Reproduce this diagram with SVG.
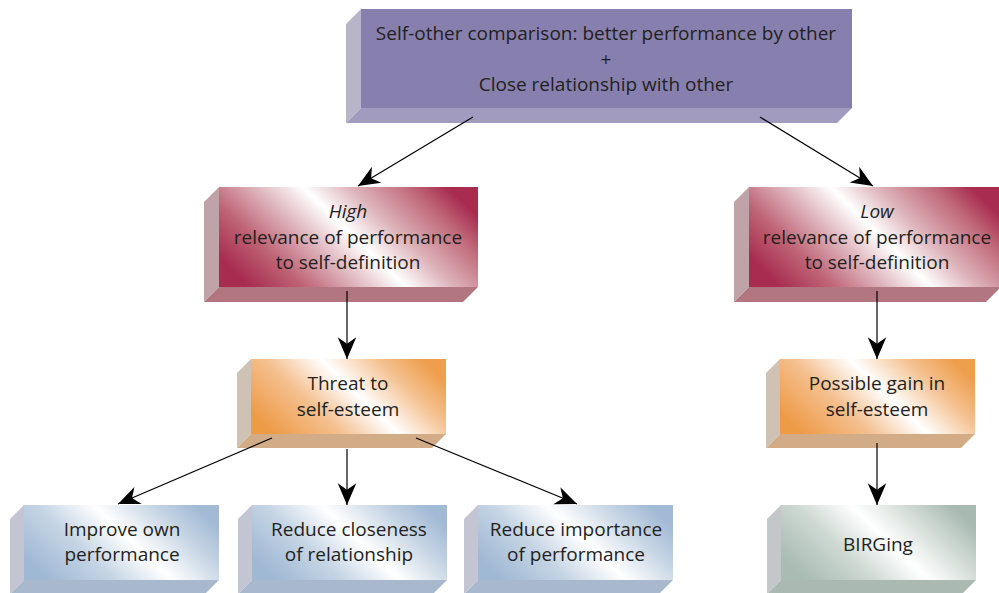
<svg xmlns="http://www.w3.org/2000/svg" width="999" height="593" viewBox="0 0 999 593">
<style>
text{font-family:"Open Sans","Liberation Sans",sans-serif;font-size:19px;fill:#231F20;text-anchor:middle}
.it{font-style:italic}
.ln{stroke:#000;stroke-width:1.2;fill:none;marker-end:url(#ah)}
</style>
<defs>
<marker id="ah" markerUnits="userSpaceOnUse" markerWidth="24" markerHeight="22" viewBox="-21 -10 22 20" refX="0" refY="0" orient="auto">
<path d="M0,0 L-20,-8.5 L-14,0 L-20,8.5 Z" fill="#000"/>
</marker>
<linearGradient id="gRed" x1="0" y1="0.7" x2="1" y2="0.3">
<stop offset="0" stop-color="#A82C50"/><stop offset="0.18" stop-color="#BE6375"/><stop offset="0.38" stop-color="#E2BEC5"/><stop offset="0.52" stop-color="#FFFFFF"/><stop offset="0.68" stop-color="#DDB3BA"/><stop offset="0.88" stop-color="#BF6677"/><stop offset="1" stop-color="#A82C50"/>
</linearGradient>
<linearGradient id="gOr" x1="0" y1="0.7" x2="1" y2="0.3">
<stop offset="0" stop-color="#EE9B48"/><stop offset="0.3" stop-color="#F4C090"/><stop offset="0.55" stop-color="#FFFFFF"/><stop offset="0.8" stop-color="#F4C190"/><stop offset="1" stop-color="#EE9E4C"/>
</linearGradient>
<linearGradient id="gBl" x1="0" y1="0.7" x2="1" y2="0.3">
<stop offset="0" stop-color="#9FB8D4"/><stop offset="0.3" stop-color="#C6D5E5"/><stop offset="0.55" stop-color="#FFFFFF"/><stop offset="0.8" stop-color="#C8D6E5"/><stop offset="1" stop-color="#A2BAD5"/>
</linearGradient>
<linearGradient id="gGr" x1="0" y1="0.7" x2="1" y2="0.3">
<stop offset="0" stop-color="#A9BBB3"/><stop offset="0.3" stop-color="#CDD8D3"/><stop offset="0.55" stop-color="#FFFFFF"/><stop offset="0.8" stop-color="#CFD9D4"/><stop offset="1" stop-color="#A7B9B1"/>
</linearGradient>
</defs>
<rect width="999" height="593" fill="#fff"/>

<g id="top">
<polygon points="361,9 346,24 346,123 361,108" fill="#B8B5C9"/>
<polygon points="361,108 852,108 837,123 346,123" fill="#A19CBF"/>
<rect x="361" y="9" width="491" height="99" fill="#8780AE"/>
<text x="606" y="40">Self-other comparison: better performance by other</text>
<text x="606" y="66">+</text>
<text x="606" y="91">Close relationship with other</text>
</g>

<g id="highRel">
<polygon points="219,187 204,202 204,302 219,287" fill="#C0A3A9"/>
<polygon points="219,287 478,287 463,302 204,302" fill="#B1767F"/>
<rect x="219" y="187" width="259" height="100" fill="url(#gRed)"/>
<text x="348" y="218" class="it">High</text>
<text x="348" y="244">relevance of performance</text>
<text x="348" y="269">to self-definition</text>
</g>

<g id="lowRel">
<polygon points="749,187 734,202 734,302 749,287" fill="#C0A3A9"/>
<polygon points="749,287 1001,287 986,302 734,302" fill="#B1767F"/>
<rect x="749" y="187" width="252" height="100" fill="url(#gRed)"/>
<text x="877" y="218" class="it">Low</text>
<text x="877" y="244">relevance of performance</text>
<text x="877" y="269">to self-definition</text>
</g>

<g id="threat">
<polygon points="251,359 237,373 237,448 251,434" fill="#CFC2B4"/>
<polygon points="251,434 446,434 432,448 237,448" fill="#D2AC87"/>
<rect x="251" y="359" width="195" height="75" fill="url(#gOr)"/>
<text x="348" y="390">Threat to</text>
<text x="348" y="416">self-esteem</text>
</g>

<g id="gain">
<polygon points="780,359 766,373 766,448 780,434" fill="#CFC2B4"/>
<polygon points="780,434 975,434 961,448 766,448" fill="#D2AC87"/>
<rect x="780" y="359" width="195" height="75" fill="url(#gOr)"/>
<text x="877" y="390">Possible gain in</text>
<text x="877" y="416">self-esteem</text>
</g>

<g id="improve">
<polygon points="24,505 10,519 10,594 24,580" fill="#C3C6D2"/>
<polygon points="24,580 219,580 205,594 10,594" fill="#A9B9CD"/>
<rect x="24" y="505" width="195" height="75" fill="url(#gBl)"/>
<text x="122" y="536">Improve own</text>
<text x="122" y="561">performance</text>
</g>

<g id="closeness">
<polygon points="252,505 238,519 238,594 252,580" fill="#C3C6D2"/>
<polygon points="252,580 447,580 433,594 238,594" fill="#A9B9CD"/>
<rect x="252" y="505" width="195" height="75" fill="url(#gBl)"/>
<text x="349" y="536">Reduce closeness</text>
<text x="349" y="561">of relationship</text>
</g>

<g id="importance">
<polygon points="478,505 464,519 464,594 478,580" fill="#C3C6D2"/>
<polygon points="478,580 673,580 659,594 464,594" fill="#A9B9CD"/>
<rect x="478" y="505" width="195" height="75" fill="url(#gBl)"/>
<text x="576" y="536">Reduce importance</text>
<text x="576" y="561">of performance</text>
</g>

<g id="birging">
<polygon points="781,505 767,519 767,594 781,580" fill="#C4C7CA"/>
<polygon points="781,580 976,580 962,594 767,594" fill="#AABAB2"/>
<rect x="781" y="505" width="195" height="75" fill="url(#gGr)"/>
<text x="878" y="551">BIRGing</text>
</g>

<g id="connectors">
<line class="ln" x1="473" y1="117" x2="358" y2="186"/>
<line class="ln" x1="760" y1="117" x2="873" y2="186"/>
<line class="ln" x1="347" y1="291" x2="347" y2="359"/>
<line class="ln" x1="877" y1="291" x2="877" y2="359"/>
<line class="ln" x1="272" y1="438" x2="118" y2="504"/>
<line class="ln" x1="347" y1="449" x2="347" y2="505"/>
<line class="ln" x1="416" y1="438" x2="577" y2="504"/>
<line class="ln" x1="877" y1="443" x2="877" y2="505"/>
</g>
</svg>
